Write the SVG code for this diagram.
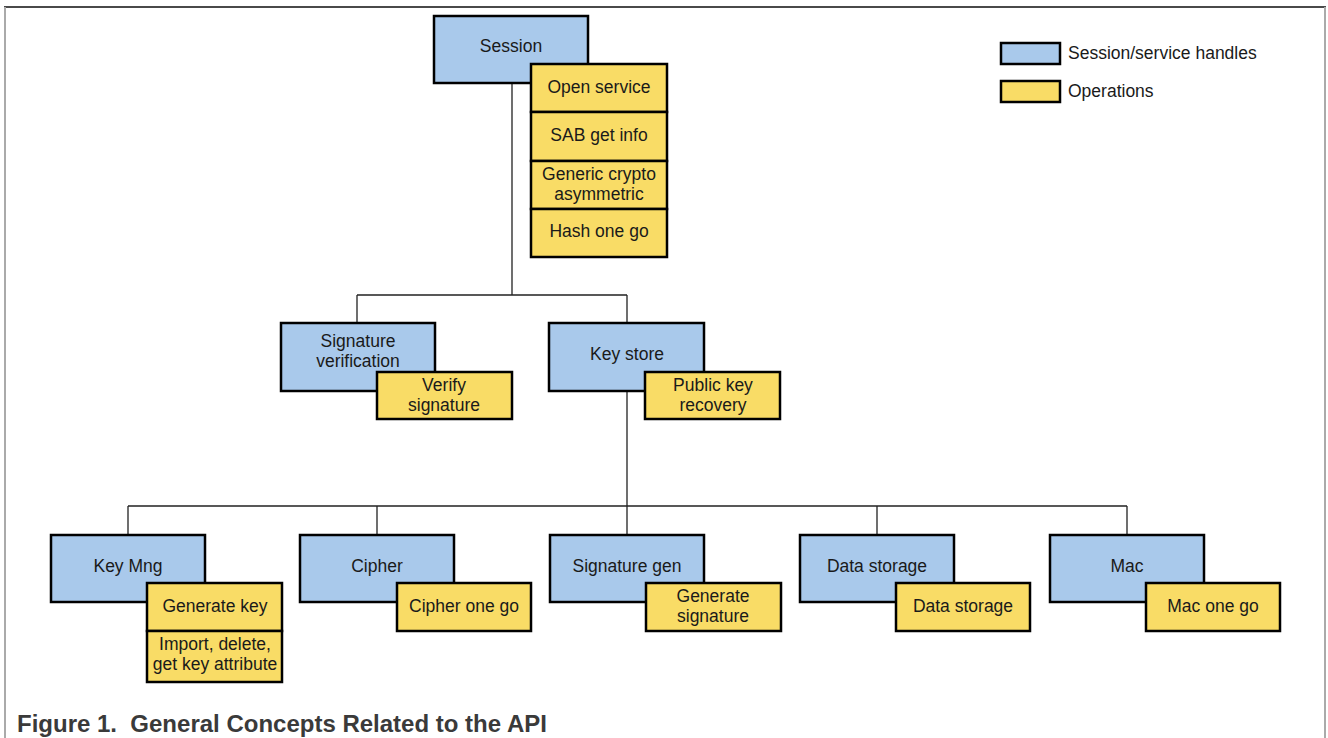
<svg xmlns="http://www.w3.org/2000/svg" width="1328" height="738" viewBox="0 0 1328 738">
  <style>
    .h { fill: #a9c9eb; stroke: #000; stroke-width: 2.5; }
    .op { fill: #f9dc66; stroke: #000; stroke-width: 2.5; }
    .t { font-family: "Liberation Sans", Arial, sans-serif; font-size: 17.5px; fill: #1a1a1a; text-anchor: middle; }
    .lt { font-family: "Liberation Sans", Arial, sans-serif; font-size: 17.5px; fill: #1a1a1a; }
    .cap { font-family: "Liberation Sans", Arial, sans-serif; font-size: 24px; font-weight: bold; fill: #3a3a3a; }
    .conn { fill: none; stroke: #222; stroke-width: 1.3; }
    .frame-top { stroke: #4a4a4a; stroke-width: 2; }
    .frame-side { stroke: #aaaaaa; stroke-width: 2; }
  </style>
  <rect width="1328" height="738" fill="#fff"/>
  <g id="frame">
    <line class="frame-top" x1="4" y1="7" x2="1326" y2="7"/>
    <line class="frame-side" x1="5" y1="7" x2="5" y2="738"/>
    <line class="frame-side" x1="1325" y1="7" x2="1325" y2="738"/>
  </g>
  <g id="connectors">
    <path class="conn" d="M512 83 V295 M357 295 H627 M357 295 V323 M627 295 V323"/>
    <path class="conn" d="M627 391 V506 M128 506 H1127 M128 506 V535 M377 506 V535 M627 506 V535 M877 506 V535 M1127 506 V535"/>
  </g>
  <g id="session">
    <rect class="h" x="434" y="16" width="154" height="67"/>
    <text class="t" x="511" y="52">Session</text>
    <rect class="op" x="531" y="64" width="136" height="48"/>
    <text class="t" x="599" y="93">Open service</text>
    <rect class="op" x="531" y="112" width="136" height="49"/>
    <text class="t" x="599" y="141">SAB get info</text>
    <rect class="op" x="531" y="161" width="136" height="48"/>
    <text class="t" x="599" y="180">Generic crypto</text>
    <text class="t" x="599" y="200">asymmetric</text>
    <rect class="op" x="531" y="209" width="136" height="48"/>
    <text class="t" x="599" y="237">Hash one go</text>
  </g>
  <g id="signature-verification">
    <rect class="h" x="281" y="323" width="154" height="68"/>
    <text class="t" x="358" y="347">Signature</text>
    <text class="t" x="358" y="367">verification</text>
    <rect class="op" x="377" y="372" width="135" height="47"/>
    <text class="t" x="444" y="391">Verify</text>
    <text class="t" x="444" y="411">signature</text>
  </g>
  <g id="key-store">
    <rect class="h" x="549" y="323" width="155" height="68"/>
    <text class="t" x="627" y="360">Key store</text>
    <rect class="op" x="645" y="372" width="135" height="47"/>
    <text class="t" x="713" y="391">Public key</text>
    <text class="t" x="713" y="411">recovery</text>
  </g>
  <g id="key-mng">
    <rect class="h" x="51" y="535" width="154" height="67"/>
    <text class="t" x="128" y="572">Key Mng</text>
    <rect class="op" x="147" y="583" width="135" height="48"/>
    <text class="t" x="215" y="612">Generate key</text>
    <rect class="op" x="147" y="631" width="135" height="51"/>
    <text class="t" x="215" y="650">Import, delete,</text>
    <text class="t" x="215" y="670">get key attribute</text>
  </g>
  <g id="cipher">
    <rect class="h" x="300" y="535" width="154" height="67"/>
    <text class="t" x="377" y="572">Cipher</text>
    <rect class="op" x="397" y="583" width="134" height="48"/>
    <text class="t" x="464" y="612">Cipher one go</text>
  </g>
  <g id="signature-gen">
    <rect class="h" x="550" y="535" width="154" height="67"/>
    <text class="t" x="627" y="572">Signature gen</text>
    <rect class="op" x="646" y="583" width="135" height="48"/>
    <text class="t" x="713" y="602">Generate</text>
    <text class="t" x="713" y="622">signature</text>
  </g>
  <g id="data-storage">
    <rect class="h" x="800" y="535" width="154" height="67"/>
    <text class="t" x="877" y="572">Data storage</text>
    <rect class="op" x="896" y="583" width="134" height="48"/>
    <text class="t" x="963" y="612">Data storage</text>
  </g>
  <g id="mac">
    <rect class="h" x="1050" y="535" width="154" height="67"/>
    <text class="t" x="1127" y="572">Mac</text>
    <rect class="op" x="1146" y="583" width="134" height="48"/>
    <text class="t" x="1213" y="612">Mac one go</text>
  </g>
  <g id="legend">
    <rect class="h" x="1001" y="43" width="59" height="21" stroke-width="2"/>
    <text class="lt" x="1068" y="59">Session/service handles</text>
    <rect class="op" x="1001" y="81" width="59" height="21" stroke-width="2"/>
    <text class="lt" x="1068" y="97">Operations</text>
  </g>
  <text class="cap" x="17" y="732" xml:space="preserve">Figure 1.  General Concepts Related to the API</text>
</svg>
